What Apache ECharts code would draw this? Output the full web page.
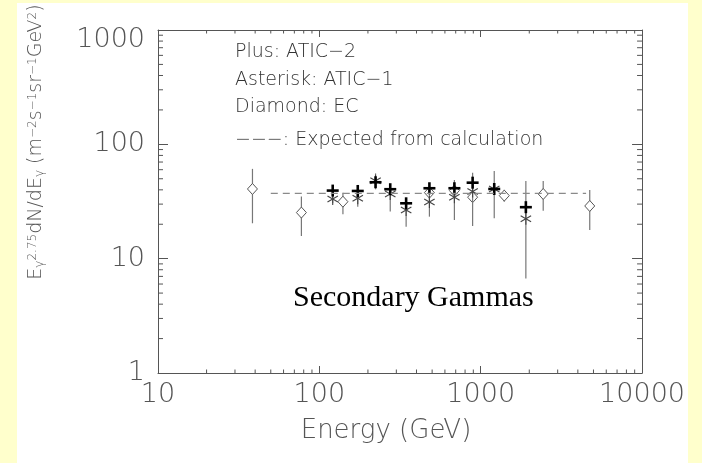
<!DOCTYPE html>
<html><head><meta charset="utf-8">
<script src="https://cdn.jsdelivr.net/npm/echarts@6/dist/echarts.min.js"></script>
<style>
html,body{margin:0;padding:0;background:#FFFFCC;width:702px;height:463px;overflow:hidden;}
#chart{position:absolute;left:17px;top:3px;width:671px;height:460px;background:#ffffff;}
</style></head><body><div id="chart"></div>
<script>
// ---- data ----
const xTickLabels = [10, 100, 1000, 10000];
const yTickLabels = [1, 10, 100, 1000];
const minorX = [20,30,40,50,60,70,80,90,200,300,400,500,600,700,800,900,2000,3000,4000,5000,6000,7000,8000,9000];
const minorY = [2,3,4,5,6,7,8,9,20,30,40,50,60,70,80,90,200,300,400,500,600,700,800,900];

const expectedE = [50, 4500];
const expectedV = [37.3, 37.3];

const aticE   = [121, 173, 223, 275, 345, 481, 687, 891, 1213, 1905];
const atic2V  = [39.4, 39.1, 46.6, 40.5, 30.5, 41.3, 41.3, 46.2, 40.7, 28.2];
const atic1V  = [33.3, 33.8, 48.0, 36.8, 26.7, 31.3, 34.5, 38.6, 40.7, 22.3];
const aticLo  = [30.5, 28.5, 40.4, 25.8, 19.0, 23.3, 21.8, 19.3, 22.6, 6.7];
const aticHi  = [41.3, 42.7, 55.7, 44.4, 32.7, 45.5, 48.7, 56.5, 58.5, 47.7];

const ecE  = [38.5, 77.4, 140, 481, 687, 891, 1400, 2440, 4740];
const ecV  = [40.7, 25.3, 31.5, 37.8, 39.4, 34.5, 35.6, 36.8, 28.9];
const ecLo = [20.4, 15.8, 24.5, 37.8, 39.4, 34.5, 31.5, 26.3, 17.8];
const ecHi = [61.0, 34.9, 37.8, 37.8, 39.4, 34.5, 40.0, 47.9, 39.9];

const legendLines = ['Plus: ATIC\u22122', 'Asterisk: ATIC\u22121', 'Diamond: EC', '\u2212\u2212\u2212: Expected from calculation'];
const xMin = 10, xMax = 10000, yMin = 1, yMax = 1000;

// ---- chart ----
const FONT = "'DejaVu Sans', sans-serif";
const AX = '#555';
const TXT = '#555';
const chart = echarts.init(document.getElementById('chart'), null, {renderer: 'canvas'});

function labelStyle(show, margin, isY) {
  return {show: show, color: TXT, fontSize: 27, fontFamily: FONT, fontWeight: 300, margin: margin,
    formatter: v => {
      const s = String(Math.round(v));
      return (isY && Math.round(v) === yMax) ? '{top|' + s + '}' : s;
    },
    rich: {top: {fontSize: 27, fontFamily: FONT, fontWeight: 300, color: TXT, padding: [20, 0, 0, 0]}}
  };
}

const errLine = (api, x, lo, hi) => {
  const a = api.coord([x, lo]), b = api.coord([x, hi]);
  return {type: 'line', shape: {x1: a[0], y1: a[1], x2: b[0], y2: b[1]}, style: {stroke: '#777', lineWidth: 1.2}};
};

function mkAxis(pos, show, tickLen, margin, min, max, isY) {
  return {type: 'log', logBase: 10, min: min, max: max, position: pos,
    axisLine: {show: true, lineStyle: {color: AX, width: 1}},
    axisTick: {inside: true, length: tickLen, lineStyle: {color: AX}},
    splitLine: {show: false},
    axisLabel: labelStyle(show, margin, isY)};
}

const option = {
  animation: false,
  grid: {left: 141, top: 27, width: 485, height: 343, containLabel: false},
  xAxis: [mkAxis('bottom', true, 7, 8, xMin, xMax, false), mkAxis('top', false, 7, 8, xMin, xMax, false)],
  yAxis: [mkAxis('left', true, 10, 13, yMin, yMax, true), mkAxis('right', false, 10, 13, yMin, yMax, true)],
  series: [
    { // minor x ticks
      type: 'custom', silent: true, xAxisIndex: 0, yAxisIndex: 0,
      data: minorX.map(v => [v, yMin]), encode: {x: 0, y: 1},
      renderItem: (p, api) => {
        const v = api.value(0);
        const b = api.coord([v, yMin]), t = api.coord([v, yMax]);
        return {type: 'group', children: [
          {type: 'line', shape: {x1: b[0], y1: b[1], x2: b[0], y2: b[1] - 3.5}, style: {stroke: AX, lineWidth: 1}},
          {type: 'line', shape: {x1: t[0], y1: t[1], x2: t[0], y2: t[1] + 3.5}, style: {stroke: AX, lineWidth: 1}}
        ]};
      }
    },
    { // minor y ticks
      type: 'custom', silent: true, xAxisIndex: 0, yAxisIndex: 0,
      data: minorY.map(v => [xMin, v]), encode: {x: 0, y: 1},
      renderItem: (p, api) => {
        const v = api.value(1);
        const l = api.coord([xMin, v]), r = api.coord([xMax, v]);
        return {type: 'group', children: [
          {type: 'line', shape: {x1: l[0], y1: l[1], x2: l[0] + 5, y2: l[1]}, style: {stroke: AX, lineWidth: 1}},
          {type: 'line', shape: {x1: r[0], y1: r[1], x2: r[0] - 5, y2: r[1]}, style: {stroke: AX, lineWidth: 1}}
        ]};
      }
    },
    { // expected
      type: 'line', name: 'Expected', symbol: 'none', silent: true,
      data: expectedE.map((e, i) => [e, expectedV[i]]),
      lineStyle: {color: '#8a8a8a', width: 1.3, type: [7, 5]}
    },
    { // EC diamonds
      type: 'custom', name: 'EC', silent: true,
      data: ecE.map((e, i) => [e, ecV[i], ecLo[i], ecHi[i]]), encode: {x: 0, y: 1},
      renderItem: (p, api) => {
        const x = api.value(0), c = api.coord([x, api.value(1)]);
        return {type: 'group', children: [
          errLine(api, x, api.value(2), api.value(3)),
          {type: 'polygon', shape: {points: [[c[0], c[1] - 5.5], [c[0] + 5, c[1]], [c[0], c[1] + 5.5], [c[0] - 5, c[1]]]},
            style: {fill: '#fff', stroke: '#555', lineWidth: 1}}
        ]};
      }
    },
    { // ATIC-1 asterisks
      type: 'custom', name: 'ATIC-1', silent: true,
      data: aticE.map((e, i) => [e, atic1V[i], aticLo[i], aticHi[i]]), encode: {x: 0, y: 1},
      renderItem: (p, api) => {
        const x = api.value(0), c = api.coord([x, api.value(1)]);
        const r = 6, dx = r * 0.87, dy = r * 0.5;
        const st = {stroke: '#444', lineWidth: 1.1};
        return {type: 'group', children: [
          errLine(api, x, api.value(2), api.value(3)),
          {type: 'line', shape: {x1: c[0], y1: c[1] - r, x2: c[0], y2: c[1] + r}, style: st},
          {type: 'line', shape: {x1: c[0] - dx, y1: c[1] - dy, x2: c[0] + dx, y2: c[1] + dy}, style: st},
          {type: 'line', shape: {x1: c[0] - dx, y1: c[1] + dy, x2: c[0] + dx, y2: c[1] - dy}, style: st}
        ]};
      }
    },
    { // ATIC-2 plus
      type: 'custom', name: 'ATIC-2', silent: true,
      data: aticE.map((e, i) => [e, atic2V[i]]), encode: {x: 0, y: 1},
      renderItem: (p, api) => {
        const x = api.value(0), c = api.coord([x, api.value(1)]);
        const r = 6;
        const st = {stroke: '#000', lineWidth: 2.6};
        return {type: 'group', children: [
          {type: 'line', shape: {x1: c[0], y1: c[1] - r, x2: c[0], y2: c[1] + r}, style: st},
          {type: 'line', shape: {x1: c[0] - r, y1: c[1], x2: c[0] + r, y2: c[1]}, style: st}
        ]};
      }
    }
  ],
  graphic: [
    ...legendLines.map((t, i) => ({type: 'text', left: 218, top: [40, 68, 95, 128][i],
      style: {text: t, fill: '#333', font: `300 19px ${FONT}`}})),
    {type: 'text', left: 276, top: 280, style: {text: 'Secondary Gammas', fill: '#000',
      font: "30px 'Liberation Serif', 'Times New Roman', serif"}},
    {type: 'text', x: 369, y: 428, style: {text: 'Energy (GeV)', fill: TXT, font: `300 26px ${FONT}`,
      textAlign: 'center', textVerticalAlign: 'middle'}},
    {type: 'text', x: 19, y: 139, rotation: Math.PI / 2,
      style: {
        text: 'E{sub|\u03b3}{sup|2.75}dN/dE{sub|\u03b3} (m{sup|\u22122}s{sup|\u22121}sr{sup|\u22121}GeV{sup|2})',
        fill: TXT, font: `300 19px ${FONT}`, textAlign: 'center', textVerticalAlign: 'middle',
        rich: {
          sub: {fontSize: 12, fontFamily: FONT, fontWeight: 300, fill: TXT, verticalAlign: 'bottom', lineHeight: 12},
          sup: {fontSize: 12, fontFamily: FONT, fontWeight: 300, fill: TXT, verticalAlign: 'top', lineHeight: 12}
        }
      }}
  ]
};
chart.setOption(option);
</script></body></html>
